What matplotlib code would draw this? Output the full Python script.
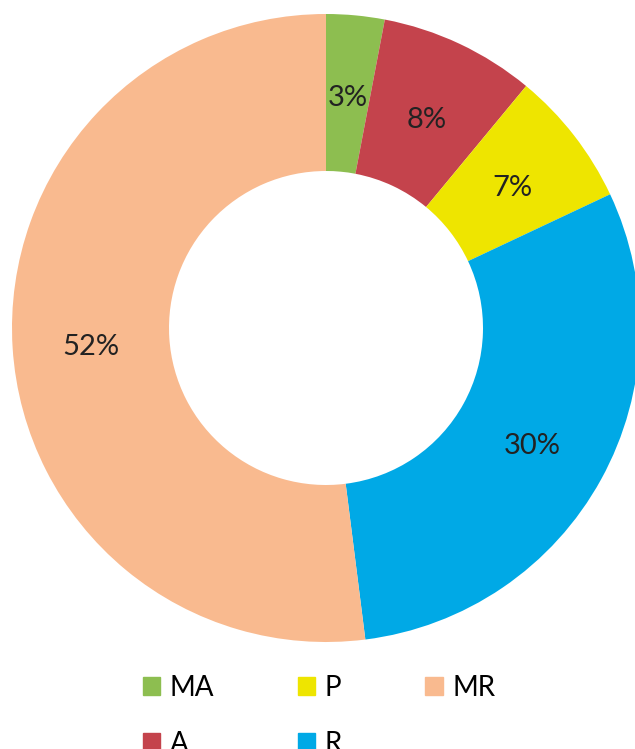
import matplotlib
matplotlib.use("Agg")
import matplotlib.pyplot as plt
import matplotlib.patches as mpatches

# dados do gráfico
labels = ["MA", "A", "P", "R", "MR"]
values = [3, 8, 7, 30, 52]
colors = ["#8DBE50", "#C4434C", "#EEE500", "#00A9E6", "#F9BA8F"]

plt.rcParams["font.family"] = ["Lato", "DejaVu Sans"]

fig = plt.figure(figsize=(6.35, 7.49), dpi=100)
ax = fig.add_axes([0, 0, 1, 1])

wedges, texts, autotexts = ax.pie(
    values, colors=colors, startangle=90, counterclock=False,
    radius=1.0, wedgeprops=dict(width=0.5, linewidth=0),
    autopct="%d%%", pctdistance=0.75,
    textprops=dict(fontsize=21, color="#222222"))
for t in autotexts:                      # leve ajuste vertical dos rótulos
    x, y = t.get_position()
    t.set_position((x, y - 0.015))

# escala: 314 px por unidade, centro em (326, 328) px
scale = 314.0
cx, cy = 326.0, 328.0
ax.set_xlim(-cx / scale, (635 - cx) / scale)
ax.set_ylim(-(749 - cy) / scale, cy / scale)
ax.set_aspect("auto")
ax.axis("off")

handles = [mpatches.Patch(color=c, label=l) for c, l in zip(colors, labels)]
fig.legend(handles=handles, ncol=3, loc="upper left",
           bbox_to_anchor=(118 / 635, 1 - 650 / 749), frameon=False,
           fontsize=20, handlelength=0.62, handleheight=0.62,
           handletextpad=0.35, columnspacing=3.0, labelspacing=1.08)

fig.savefig("out.png", dpi=100)
